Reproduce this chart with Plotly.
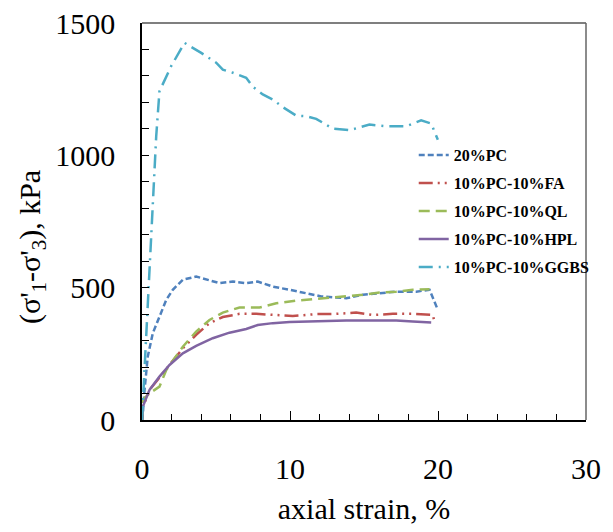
import plotly.graph_objects as go

# ---- data (axial strain %, deviator stress kPa) ----
pc_x = [0, 0.03, 0.17, 0.39, 0.73, 1.18, 1.64, 2.08, 2.76, 3.66, 4.34, 5.24, 6.14, 7.04, 7.82, 8.84,
        9.97, 11.1, 12.11, 13.8, 14.92, 16.05, 17.18, 18.53, 19.43, 19.99]
pc_y = [0, 0, 113, 240, 328, 391, 454, 492, 530, 542, 530, 517, 523, 517, 523, 504,
        492, 479, 467, 460, 473, 479, 485, 485, 492, 416]

fa_x = [0, 0.05, 0.6, 1.41, 2.08, 2.76, 3.66, 4.56, 5.46, 6.59, 7.72, 8.84, 10.19, 11.77, 13.12,
        14.47, 15.6, 16.95, 18.3, 19.65, 19.76]
fa_y = [0, 50, 120, 177, 227, 271, 322, 366, 389, 401, 401, 397, 393, 400, 401,
        406, 397, 401, 401, 397, 372]

ql_x = [0, 0.05, 0.51, 1.18, 1.64, 2.31, 2.76, 3.66, 4.56, 5.46, 6.59, 7.94, 9.07, 10.42, 11.77,
        13.12, 14.92, 16.05, 17.18, 18.3, 19.43]
ql_y = [0, 76, 101, 126, 189, 240, 277, 334, 378, 406, 425, 425, 441, 451, 457,
        464, 473, 482, 485, 492, 494]

hpl_x = [0, 0.05, 0.51, 1.18, 1.86, 2.76, 3.66, 4.78, 5.91, 7.04, 7.82, 8.84, 9.97, 11.1, 12.22,
         13.8, 15.37, 17.18, 18.3, 19.54]
hpl_y = [0, 50, 114, 164, 208, 252, 280, 309, 330, 344, 359, 366, 370, 372, 376,
         376, 376, 376, 372, 368]

gg_x = [0, 0.17, 0.44, 0.69, 0.84, 0.96, 1.14, 1.18, 1.97, 2.76, 2.87, 3.43, 4.0, 5.01, 5.46, 6.14,
        7.04, 7.49, 8.16, 8.84, 9.51, 10.42, 11.1, 11.77, 12.89, 14.02, 15.37, 16.5, 17.85,
        18.86, 19.54, 19.99]
gg_y = [0, 200, 503, 795, 935, 1072, 1211, 1242, 1337, 1419, 1425, 1406, 1387, 1350, 1324, 1312,
        1293, 1259, 1230, 1211, 1182, 1150, 1148, 1138, 1101, 1095, 1116, 1110, 1110,
        1132, 1120, 1059]

names = ["20%PC", "10%PC-10%FA", "10%PC-10%QL", "10%PC-10%HPL", "10%PC-10%GGBS"]
colors = ["#4F81BD", "#C0504D", "#9BBB59", "#8064A2", "#4BACC6"]
dashes = ["6px,3px", "14px,5px,2px,5px,2px,5px", "11px,6px", "solid", "14px,6px,2px,6px"]
xs = [pc_x, fa_x, ql_x, hpl_x, gg_x]
ys = [pc_y, fa_y, ql_y, hpl_y, gg_y]

FONT = "Liberation Serif, Times New Roman, serif"
legend_ids = ["legend", "legend2", "legend3", "legend4", "legend5"]

fig = go.Figure()
for n, c, d, x, y, lg in zip(names, colors, dashes, xs, ys, legend_ids):
    fig.add_trace(go.Scatter(x=x, y=y, mode="lines", name="<b>%s</b>" % n, legend=lg,
                             line=dict(color=c, width=2.5, dash=d)))

plot_h = 420 - 23
legend_layout = {}
for i, lg in enumerate(legend_ids):
    ypix = 155 + 28 * i
    legend_layout[lg] = dict(x=0.612, y=(420 - ypix) / plot_h, xanchor="left", yanchor="middle",
                             bgcolor="rgba(0,0,0,0)",
                             font=dict(family=FONT, size=16, color="black"),
                             itemwidth=30)

fig.update_layout(
    width=613, height=532,
    margin=dict(l=142, r=27, t=23, b=112),
    paper_bgcolor="white", plot_bgcolor="white",
    font=dict(family=FONT, color="black", size=30),
    showlegend=True,
    xaxis=dict(range=[0, 30], dtick=10, showgrid=False, zeroline=False, automargin=False,
               showline=True, linecolor="black", linewidth=1.5,
               ticks="inside", ticklen=9, tickcolor="black", tickwidth=1,
               ticklabelstandoff=21,
               minor=dict(dtick=2, ticks="inside", ticklen=6, tickcolor="black", tickwidth=1),
               title=dict(text="axial strain, %", font=dict(size=30), standoff=14)),
    yaxis=dict(range=[0, 1500], dtick=500, showgrid=False, zeroline=False, automargin=False,
               showline=True, linecolor="black", linewidth=1.5,
               ticks="inside", ticklen=7, tickcolor="black", tickwidth=1,
               ticklabelstandoff=19,
               minor=dict(dtick=100, ticks="inside", ticklen=7, tickcolor="black", tickwidth=1)),
    **legend_layout,
)

# y-axis title as annotation (positioned as in reference)
fig.add_annotation(text="(σ'<sub>1</sub>-σ'<sub>3</sub>), kPa", textangle=-90,
                   xref="paper", yref="paper", x=0, y=(420 - 247) / plot_h,
                   xanchor="center", yanchor="middle", xshift=-110, showarrow=False,
                   font=dict(family=FONT, size=30, color="black"))

# top and right frame lines
fig.add_shape(type="line", xref="paper", yref="paper", x0=0, x1=1, y0=1, y1=1,
              line=dict(color="#555555", width=1.5))
fig.add_shape(type="line", xref="paper", yref="paper", x0=1, x1=1, y0=0, y1=1,
              line=dict(color="#666666", width=1.5))

fig.write_html("out.html", config={"displayModeBar": False},
               post_script="document.body.style.margin='0';")
